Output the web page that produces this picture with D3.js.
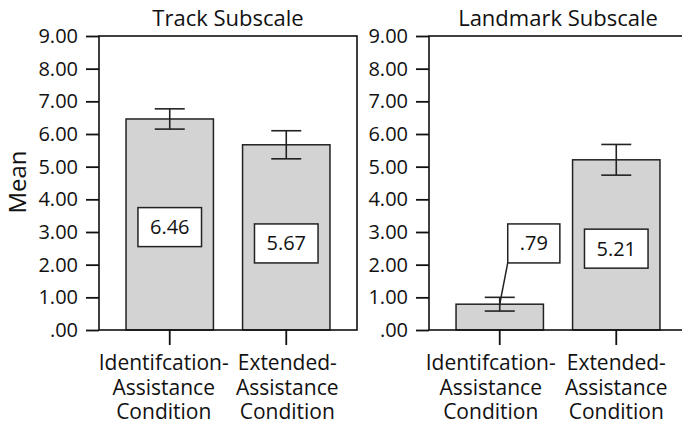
<!DOCTYPE html>
<html>
<head>
<meta charset="utf-8">
<script src="https://cdn.jsdelivr.net/npm/d3@7"></script>
<style>
  body { margin: 0; background: #fff; }
  svg { display: block; font-family: "Open Sans", sans-serif; }
</style>
</head>
<body>
<div id="chart"></div>
<script>
// --- data ---------------------------------------------------------------
var panelTitles = ["Track Subscale", "Landmark Subscale"];
var categories = [
    ["Identifcation-", "Assistance", "Condition"],
    ["Extended-", "Assistance", "Condition"]
];
var trackMeans = [6.46, 5.67];
var trackErr = [0.31, 0.43];
var landmarkMeans = [0.79, 5.21];
var landmarkErr = [0.21, 0.47];
var valueLabels = [["6.46", "5.67"], [".79", "5.21"]];
// where the value boxes sit (mean units) and whether they need a leader line
var trackLabelAt = [3.15, 2.65];
var landmarkLabelAt = [2.65, 2.49];
var landmarkLeader = [true, false];
var yTicks = [0, 1, 2, 3, 4, 5, 6, 7, 8, 9];

// --- layout -------------------------------------------------------------
var W = 682, H = 426;
var plotTop = 36, plotBottom = 330;
var panelLeft = [99, 429];
var panelWidth = 258;
var labelShift = [[-6, 1], [-9, 0]];

var svg = d3.select("#chart").append("svg")
    .attr("width", W)
    .attr("height", H);

var y = d3.scaleLinear().domain([0, 9]).range([plotBottom, plotTop]);

function tickText(v) {
    var s = d3.format(".2f")(v);
    return s.indexOf("0.") === 0 ? s.substring(1) : s;
}

var panels = [
    { means: trackMeans, err: trackErr, labelAt: trackLabelAt, leader: [false, false] },
    { means: landmarkMeans, err: landmarkErr, labelAt: landmarkLabelAt, leader: landmarkLeader }
];

panels.forEach(function (p, pi) {
    var x0 = panelLeft[pi];
    var x = d3.scaleBand()
        .domain(d3.range(categories.length))
        .range([x0, x0 + panelWidth])
        .paddingInner(0.25)
        .paddingOuter(0.232);

    var g = svg.append("g");

    // title
    g.append("text")
        .attr("x", x0 + panelWidth / 2)
        .attr("y", 26)
        .attr("text-anchor", "middle")
        .style("font-size", "22px")
        .attr("fill", "#111")
        .text(panelTitles[pi]);

    // bars
    g.selectAll("rect.bar").data(p.means).enter().append("rect")
        .attr("class", "bar")
        .attr("x", function (d, i) { return x(i); })
        .attr("y", function (d) { return y(d); })
        .attr("width", x.bandwidth())
        .attr("height", function (d) { return y(0) - y(d); })
        .attr("fill", "#d3d3d3")
        .attr("stroke", "#222")
        .attr("stroke-width", 1.5);

    // error bars
    var capW = 15;
    p.means.forEach(function (m, i) {
        var cx = x(i) + x.bandwidth() / 2;
        var hi = y(m + p.err[i]), lo = y(m - p.err[i]);
        var eg = g.append("g").attr("stroke", "#222").attr("stroke-width", 1.6);
        eg.append("line").attr("x1", cx).attr("x2", cx).attr("y1", hi).attr("y2", lo);
        eg.append("line").attr("x1", cx - capW).attr("x2", cx + capW).attr("y1", hi).attr("y2", hi);
        eg.append("line").attr("x1", cx - capW).attr("x2", cx + capW).attr("y1", lo).attr("y2", lo);
    });

    // value boxes
    p.means.forEach(function (m, i) {
        var cx = x(i) + x.bandwidth() / 2;
        var cy = y(p.labelAt[i]);
        var lg = g.append("g");
        var t = lg.append("text")
            .attr("y", cy)
            .attr("dy", "0.35em")
            .attr("text-anchor", "middle")
            .style("font-size", "20px")
            .attr("fill", "#111")
            .text(valueLabels[pi][i]);
        var tw = t.node().getComputedTextLength();
        var bw = Math.max(49, tw + 24), bh = 39;
        var bx = p.leader[i] ? cx + 8 : cx - bw / 2;
        t.attr("x", bx + bw / 2);
        lg.insert("rect", "text")
            .attr("x", bx)
            .attr("y", cy - bh / 2)
            .attr("width", bw)
            .attr("height", bh)
            .attr("fill", "#fff")
            .attr("stroke", "#222")
            .attr("stroke-width", 1.5);
        if (p.leader[i]) {
            lg.append("line")
                .attr("x1", bx).attr("y1", cy + bh / 2)
                .attr("x2", cx).attr("y2", y(m))
                .attr("stroke", "#222")
                .attr("stroke-width", 1.5);
        }
    });

    // frame
    g.append("rect")
        .attr("x", x0)
        .attr("y", plotTop)
        .attr("width", panelWidth)
        .attr("height", plotBottom - plotTop)
        .attr("fill", "none")
        .attr("stroke", "#111")
        .attr("stroke-width", 1.6);

    // y axis
    var yAxis = d3.axisLeft(y).tickValues(yTicks).tickFormat(tickText).tickSize(13).tickPadding(8);
    var ya = g.append("g").attr("transform", "translate(" + x0 + ",0)").call(yAxis);
    ya.select(".domain").remove();
    ya.selectAll(".tick line").attr("stroke", "#111").attr("stroke-width", 1.8);
    ya.selectAll(".tick text")
        .style("font-size", "20px")
        .style("font-family", "'Open Sans', sans-serif")
        .attr("fill", "#111");

    // x axis
    var xAxis = d3.axisBottom(x).tickSize(15).tickFormat("");
    var xa = g.append("g").attr("transform", "translate(0," + plotBottom + ")").call(xAxis);
    xa.select(".domain").remove();
    xa.selectAll(".tick line").attr("stroke", "#111").attr("stroke-width", 1.8);

    categories.forEach(function (lines, i) {
        var cx = x(i) + x.bandwidth() / 2 + labelShift[pi][i];
        var ct = g.append("text")
            .attr("text-anchor", "middle")
            .style("font-size", "21px")
            .attr("fill", "#111");
        lines.forEach(function (s, k) {
            ct.append("tspan")
                .attr("x", cx)
                .attr("y", 370 + k * 24.5)
                .text(s);
        });
    });
});

// y axis title
svg.append("text")
    .attr("transform", "translate(26,182) rotate(-90)")
    .attr("text-anchor", "middle")
    .style("font-size", "24px")
    .attr("fill", "#111")
    .text("Mean");
</script>
</body>
</html>
